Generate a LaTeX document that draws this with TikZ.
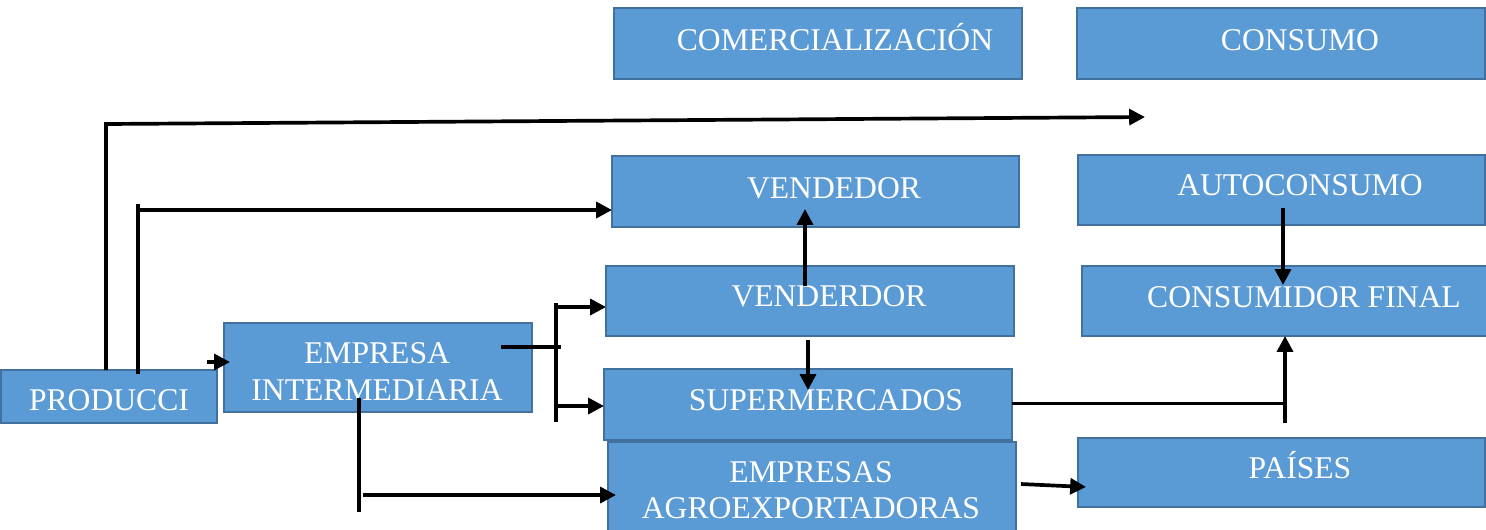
\documentclass[tikz,border=0pt]{standalone}
\usepackage{fontspec}
\setmainfont{Liberation Serif}
\usetikzlibrary{arrows.meta,calc,fit}

\definecolor{azulcaja}{HTML}{5B9BD5}
\definecolor{bordecaja}{HTML}{41719C}

\tikzset{
  caja/.style={fill=azulcaja, draw=bordecaja, line width=1.1pt, inner sep=0pt, outer sep=0pt},
  rotulo/.style={text=white, font=\fontsize{18}{20.5}\selectfont, anchor=base, inner sep=0pt, align=center},
  linea/.style={line width=2.1pt},
  flecha/.style={linea, -{Triangle[length=9pt,width=9pt]}},
}

\begin{document}
\begin{tikzpicture}[x=0.02cm, y=-0.02cm]
        \clip (0,0) rectangle (1486,529);
        % cajas
        \node[caja, fit={(614,8) (1022,79)}] (comer) {};
        \node[caja, fit={(1077,8) (1485,79)}] (consumo) {};
        \node[caja, fit={(612,156) (1019,227)}] (vend) {};
        \node[caja, fit={(1078,155) (1485,225)}] (auto) {};
        \node[caja, fit={(606,266) (1014,336)}] (vendr) {};
        \node[caja, fit={(1082,266) (1490,336)}] (cfinal) {};
        \node[caja, fit={(1,370) (217,423)}] (prod) {};
        \node[caja, fit={(224,323) (532,412)}] (empresa) {};
        \node[caja, fit={(604,369) (1012,440)}] (super) {};
        \node[caja, fit={(608,442) (1016,545)}] (agro) {};
        \node[caja, fit={(1078,438) (1485,507)}] (paises) {};
        % textos
        \node[rotulo] (t-comer) at (835,50) {COMERCIALIZACIÓN};
        \node[rotulo] (t-consumo) at (1300,50) {CONSUMO};
        \node[rotulo] (t-vend) at (834,198) {VENDEDOR};
        \node[rotulo] (t-auto) at (1300,195) {AUTOCONSUMO};
        \node[rotulo] (t-vendr) at (829,306) {VENDERDOR};
        \node[rotulo] (t-cfinal) at (1304,307) {CONSUMIDOR FINAL};
        \node[rotulo] (t-prod) at (109,410) {PRODUCCI};
        \node[rotulo] (t-empresa) at (377,400) {EMPRESA\\INTERMEDIARIA};
        \node[rotulo] (t-super) at (826,410) {SUPERMERCADOS};
        \node[rotulo] (t-agro) at (811,518) {EMPRESAS\\AGROEXPORTADORAS};
        \node[rotulo] (t-paises) at (1300,478) {PAÍSES};
        % conexiones
        \coordinate (meta) at (1145,117);
        \coordinate (bifur) at (556,303);
        \coordinate (sube) at (1285,423);
        \coordinate (baja) at (1283,208);
        \draw[flecha] ($(prod.north west)+(105,0)$) -- ++(0,-246) -- (meta);
        \draw[linea] ($(prod.north west)+(137,4)$) -- ++(0,-170);
        \draw[flecha] ($(prod.north west)+(137,-160)$) -- ($(vend.south west)+(0,-17)$);
        \draw[flecha] ($(prod.north east)+(-10,-8)$) -- ($(empresa.north west)+(6,39)$);
        \draw[linea] ($(empresa.north east)+(-31,24)$) -- ++(60,0);
        \draw[linea] (bifur) -- ++(0,119);
        \draw[flecha] ($(bifur)+(0,4)$) -- ($(vendr.south west)+(0,-29)$);
        \draw[flecha] ($(bifur)+(0,103)$) -- ($(super.north west)+(0,37)$);
        \draw[linea] ($(empresa.south west)+(135,-14)$) -- ++(0,114);
        \draw[flecha] ($(empresa.south west)+(139,83)$) -- ($(agro.north west)+(8,53)$);
        \draw[flecha] ($(vendr.north)+(-5,20)$) -- ($(vend.south)+(-10.5,-18)$);
        \draw[flecha] ($(vendr.south)+(-2,4)$) -- ($(super.north)+(0,21)$);
        \draw[linea] ($(super.east)+(0,-1)$) -- (sube |- {$(super.east)+(0,-1)$});
        \draw[flecha] (sube) -- (sube |- cfinal.south);
        \draw[flecha] (baja) -- ($(baja |- cfinal.north)+(0,19)$);
        \draw[flecha] ($(agro.east)+(5,-9.5)$) -- ($(paises.west)+(8,14.5)$);
\end{tikzpicture}
\end{document}
